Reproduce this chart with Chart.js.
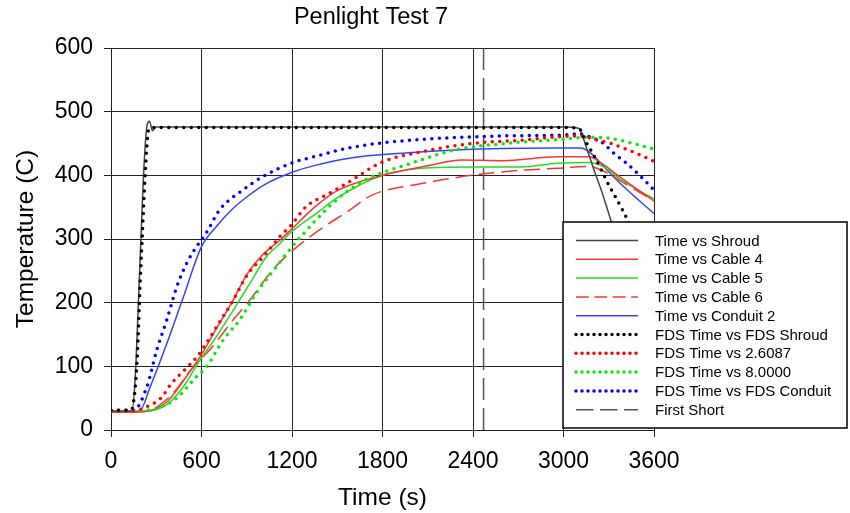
<!DOCTYPE html>
<html>
<head>
<meta charset="utf-8">
<script src="https://cdn.jsdelivr.net/npm/chart.js@4.4.1/dist/chart.umd.min.js"></script>
<style>
  body { margin: 0; background: #fff; }
  #wrap { width: 850px; height: 513px; }
</style>
</head>
<body>
<div id="wrap"><canvas id="myChart" width="850" height="513"></canvas></div>
<script>
// measured series (time in s, temperature in C)
const shroudTime = [0, 140, 160, 180, 200, 220, 240, 255, 275, 300, 600, 1200, 1800, 2400, 3000, 3100, 3150, 3200, 3250, 3300, 3400, 3500, 3600];
const shroudTemp = [30, 30, 80, 190, 310, 420, 480, 485, 470, 476, 476, 476, 476, 476, 476, 474, 445, 410, 377, 340, 260, 180, 110];

const cable4Time = [0, 220, 370, 500, 590, 700, 810, 900, 1000, 1120, 1200, 1350, 1500, 1800, 2100, 2325, 2600, 2960, 3170, 3250, 3400, 3600];
const cable4Temp = [28, 29, 44, 84, 115, 160, 204, 244, 274, 298, 316, 350, 376, 400, 415, 424, 423, 429, 429, 419, 393, 360];

const cable5Time = [0, 220, 370, 480, 590, 700, 810, 920, 1030, 1120, 1200, 1360, 1510, 1800, 2060, 2400, 2720, 2960, 3170, 3260, 3400, 3600];
const cable5Temp = [28, 29, 40, 68, 110, 147, 188, 230, 272, 293, 312, 340, 366, 400, 411, 413, 413, 419, 420, 414, 390, 363];

const cable6Time = [0, 220, 400, 545, 655, 810, 920, 1070, 1180, 1380, 1580, 1730, 2060, 2390, 2720, 2960, 3170, 3270, 3400, 3600];
const cable6Temp = [28, 29, 55, 99, 126, 173, 204, 251, 277, 314, 345, 369, 387, 400, 408, 411, 414, 406, 388, 360];

const conduitTime = [0, 190, 260, 370, 480, 600, 700, 800, 900, 1030, 1180, 1360, 1580, 1950, 2390, 2960, 3115, 3180, 3290, 3400, 3600];
const conduitTemp = [28, 30, 68, 136, 209, 288, 320, 346, 366, 387, 403, 416, 427, 435, 441, 443, 443, 435, 408, 382, 340];

// FDS predictions
const fdsShroudTime = [0, 130, 150, 172, 194, 209, 227, 249, 270, 600, 1200, 1800, 2400, 3000, 3100, 3150, 3200, 3300, 3424, 3500, 3600];
const fdsShroudTemp = [31, 31, 45, 105, 236, 314, 403, 471, 475, 475, 475, 475, 475, 475, 474, 452, 432, 385, 330, 285, 230];

const fds26Time = [0, 150, 240, 330, 400, 490, 570, 645, 700, 810, 910, 1010, 1120, 1195, 1295, 1450, 1580, 1800, 2060, 2390, 2720, 3095, 3230, 3315, 3405, 3490, 3600];
const fds26Temp = [30, 30, 37, 50, 73, 95, 115, 141, 162, 204, 246, 272, 304, 322, 351, 372, 390, 421, 437, 450, 455, 462, 455, 450, 442, 434, 422];

const fds80Time = [0, 150, 300, 436, 567, 633, 743, 853, 963, 1095, 1183, 1260, 1447, 1578, 1732, 1952, 2282, 2611, 2960, 3180, 3315, 3445, 3600];
const fds80Temp = [30, 30, 34, 50, 84, 99, 141, 173, 215, 256, 283, 304, 351, 377, 398, 416, 440, 450, 456, 460, 458, 451, 441];

const fdsConduitTime = [0, 150, 238, 304, 370, 436, 502, 567, 633, 721, 875, 1007, 1205, 1359, 1578, 1798, 2172, 2611, 2960, 3106, 3180, 3260, 3337, 3413, 3500, 3600];
const fdsConduitTemp = [31, 31, 68, 126, 173, 225, 262, 288, 310, 346, 377, 398, 420, 430, 443, 451, 458, 462, 463, 465, 460, 451, 434, 420, 401, 377];

const firstShortTime = [2470, 2470];
const firstShortTemp = [0, 600];

const xTicks = [0, 600, 1200, 1800, 2400, 3000, 3600];

const font = "'Liberation Sans', Arial, sans-serif";

function pts(t, v) {
  return t.map((x, i) => ({ x: x, y: v[i] }));
}

function solid(label, t, v, color) {
  return {
    label: label, data: pts(t, v), borderColor: color, backgroundColor: color,
    borderWidth: 1.5, cubicInterpolationMode: "monotone", order: 2
  };
}

function dotted(label, t, v, color) {
  return {
    label: label, data: pts(t, v), borderColor: color, backgroundColor: color,
    borderWidth: 3.5, borderDash: [0, 7.5], borderCapStyle: "round",
    cubicInterpolationMode: "monotone", order: 1
  };
}

const cable6 = solid("Time vs Cable 6", cable6Time, cable6Temp, "#ff3333");
cable6.borderDash = [16, 7];

const datasets = [
  solid("Time vs Shroud", shroudTime, shroudTemp, "#444444"),
  solid("Time vs Cable 4", cable4Time, cable4Temp, "#ff3333"),
  solid("Time vs Cable 5", cable5Time, cable5Temp, "#22dd22"),
  cable6,
  solid("Time vs Conduit 2", conduitTime, conduitTemp, "#3344ff"),
  dotted("FDS Time vs FDS Shroud", fdsShroudTime, fdsShroudTemp, "#000000"),
  dotted("FDS Time vs 2.6087", fds26Time, fds26Temp, "#ff0000"),
  dotted("FDS Time vs 8.0000", fds80Time, fds80Temp, "#00ee00"),
  dotted("FDS Time vs FDS Conduit", fdsConduitTime, fdsConduitTemp, "#0000ff"),
  {
    label: "First Short", data: pts(firstShortTime, firstShortTemp),
    borderColor: "#555555", borderWidth: 1.5, borderDash: [22, 8], order: 3
  }
];

// legend box drawn over the plot, plus the title
const boxLegend = {
  id: "boxLegend",
  afterDraw(chart) {
    const ctx = chart.ctx;
    ctx.save();
    ctx.fillStyle = "#fff";
    ctx.fillRect(563, 222, 284, 206);
    ctx.strokeStyle = "#000";
    ctx.lineWidth = 1.5;
    ctx.strokeRect(563, 222, 284, 206);
    chart.data.datasets.forEach((ds, i) => {
      const y = 240.5 + i * 18.8;
      ctx.beginPath();
      ctx.setLineDash(ds.borderDash ? ds.borderDash.map((d) => d * 0.8) : []);
      ctx.lineCap = ds.borderCapStyle || "butt";
      ctx.strokeStyle = ds.borderColor;
      ctx.lineWidth = ds.borderWidth;
      ctx.moveTo(576, y);
      ctx.lineTo(638, y);
      ctx.stroke();
      ctx.setLineDash([]);
      ctx.fillStyle = "#000";
      ctx.font = "15px " + font;
      ctx.textBaseline = "middle";
      ctx.fillText(ds.label, 655, y + 1);
    });
    ctx.font = "23.5px " + font;
    ctx.textAlign = "center";
    ctx.textBaseline = "middle";
    ctx.fillStyle = "#000";
    ctx.fillText("Penlight Test 7", 371, 18);
    ctx.restore();
  }
};

const ctx = document.getElementById("myChart").getContext("2d");
const lineChart = new Chart(ctx, {
  type: "line",
  data: { datasets: datasets },
  options: {
    responsive: false,
    animation: false,
    devicePixelRatio: 1,
    layout: { padding: { left: 10, right: 196, top: 48, bottom: 0 } },
    elements: { point: { radius: 0 } },
    scales: {
      x: {
        type: "linear", min: 0, max: 3600,
        afterBuildTicks: (s) => { s.ticks = xTicks.map((v) => ({ value: v })); },
        ticks: {
          color: "#000", font: { size: 23, family: font }, padding: 11, maxRotation: 0, autoSkip: false,
          callback: (v) => String(v)
        },
        grid: { color: "#222", lineWidth: 1, tickLength: 7 },
        border: { color: "#222", width: 1 },
        title: { display: true, text: "Time (s)", color: "#000", font: { size: 24.5, family: font }, padding: { top: 0, bottom: 0 } },
        afterFit: (s) => { s.height = 83; }
      },
      y: {
        min: 0, max: 600,
        ticks: { stepSize: 100, color: "#000", font: { size: 23, family: font }, padding: 11, callback: (v) => String(v) },
        grid: { color: "#222", lineWidth: 1, tickLength: 7 },
        border: { color: "#222", width: 1 },
        title: { display: true, text: "Temperature (C)", color: "#000", font: { size: 24.5, family: font }, padding: { top: 2, bottom: 0 } },
        afterFit: (s) => { s.width = 101; }
      }
    },
    plugins: {
      legend: { display: false },
      tooltip: { enabled: false },
      title: { display: false }
    }
  },
  plugins: [boxLegend]
});
</script>
</body>
</html>
